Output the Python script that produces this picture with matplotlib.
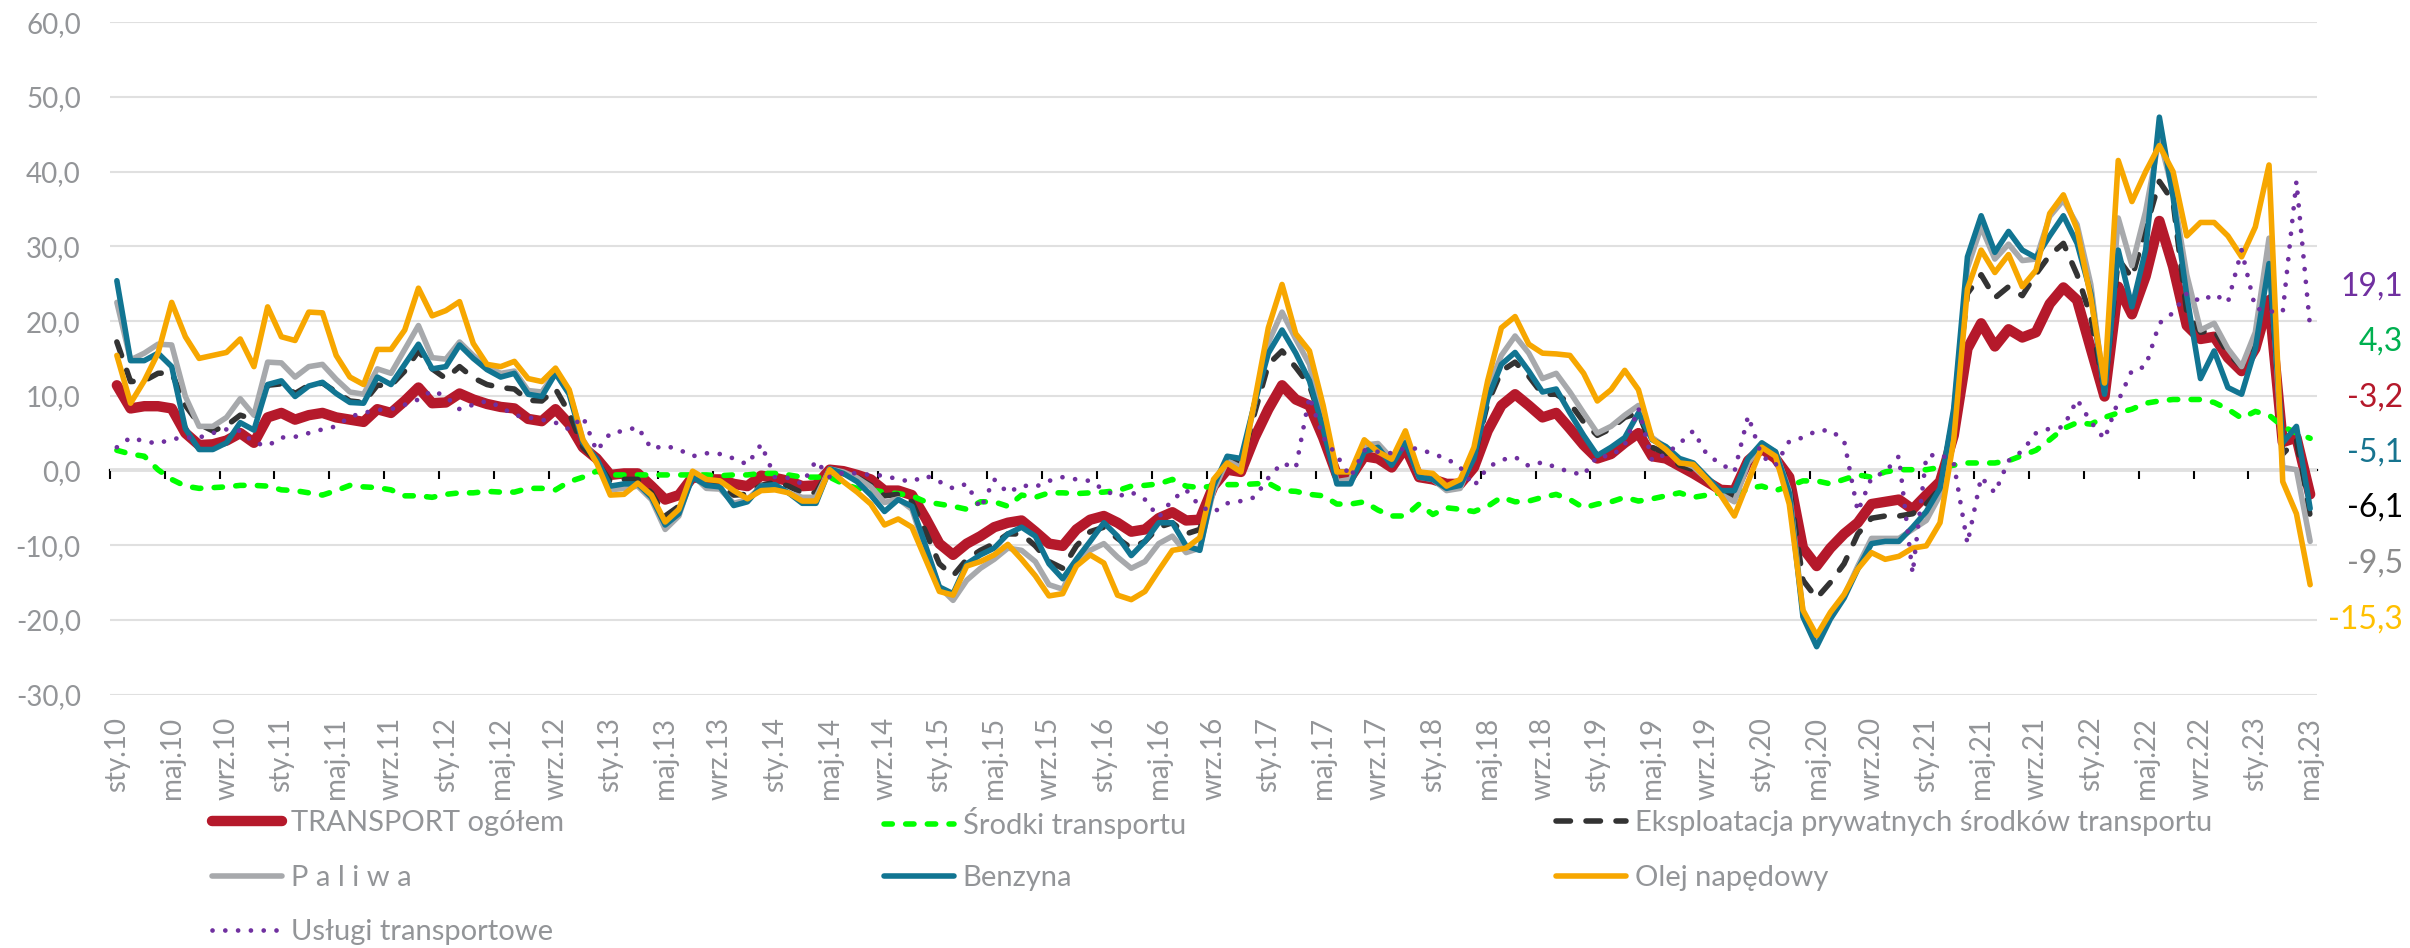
import numpy as np
import matplotlib
matplotlib.use("Agg")
import matplotlib.pyplot as plt

plt.rcParams['font.family'] = ['Lato', 'DejaVu Sans']

# miesiace sty.10 .. maj.23 (161 punktow)
months = np.arange(161)

tick_labels = ['sty.10', 'maj.10', 'wrz.10', 'sty.11', 'maj.11', 'wrz.11', 'sty.12', 'maj.12', 'wrz.12',
               'sty.13', 'maj.13', 'wrz.13', 'sty.14', 'maj.14', 'wrz.14', 'sty.15', 'maj.15', 'wrz.15',
               'sty.16', 'maj.16', 'wrz.16', 'sty.17', 'maj.17', 'wrz.17', 'sty.18', 'maj.18', 'wrz.18',
               'sty.19', 'maj.19', 'wrz.19', 'sty.20', 'maj.20', 'wrz.20', 'sty.21', 'maj.21', 'wrz.21',
               'sty.22', 'maj.22', 'wrz.22', 'sty.23', 'maj.23']

transport = [11.4, 8.3, 8.6, 8.6, 8.3, 5.0, 3.4, 3.5, 4.0, 5.0,
             3.7, 7.1, 7.7, 6.8, 7.4, 7.7, 7.1, 6.8, 6.5, 8.2,
             7.7, 9.3, 11.1, 9.0, 9.1, 10.3, 9.5, 8.9, 8.5, 8.3,
             6.9, 6.6, 8.2, 6.2, 3.1, 1.6, -0.6, -0.4, -0.4, -2.1,
             -3.9, -3.3, -0.9, -1.2, -1.2, -1.8, -2.1, -0.7, -1.0, -1.4,
             -2.1, -2.0, 0.1, -0.1, -0.6, -1.2, -2.7, -2.7, -3.3, -6.4,
             -9.8, -11.3, -9.8, -8.8, -7.6, -7.0, -6.7, -8.2, -9.8, -10.1,
             -7.9, -6.6, -6.1, -7.0, -8.2, -7.9, -6.4, -5.6, -6.7, -6.6,
             -2.1, 0.1, -0.2, 4.4, 8.2, 11.4, 9.5, 8.7, 4.4, -0.6,
             -0.9, 1.9, 1.6, 0.4, 3.1, -0.9, -1.2, -1.8, -1.8, 0.4,
             5.3, 8.7, 10.2, 8.7, 7.1, 7.7, 5.6, 3.4, 1.6, 2.2,
             3.7, 5.0, 1.9, 1.6, 0.6, -0.4, -1.5, -2.6, -2.7, 1.3,
             2.9, 1.6, -0.9, -10.4, -12.8, -10.4, -8.5, -7.0, -4.5, -4.2,
             -3.9, -5.2, -3.3, -1.5, 4.7, 16.3, 19.7, 16.6, 18.9, 17.8,
             18.5, 22.3, 24.5, 22.8, 16.3, 9.9, 24.6, 20.9, 26.0, 33.4,
             27.3, 19.4, 17.6, 17.9, 15.1, 13.3, 16.3, 22.8, 3.8, 4.4,
             -3.2]

srodki = [2.7, 2.2, 1.9, 0.1, -1.2, -2.1, -2.4, -2.3, -2.2, -2.0,
          -2.0, -2.1, -2.6, -2.7, -3.0, -3.3, -2.7, -2.0, -2.2, -2.3,
          -2.6, -3.4, -3.4, -3.6, -3.2, -3.0, -3.0, -2.8, -2.9, -2.9,
          -2.4, -2.4, -2.6, -1.5, -0.9, -0.1, -0.6, -0.6, -0.6, -0.6,
          -0.6, -0.6, -0.6, -0.6, -0.7, -0.6, -0.6, -0.4, -0.4, -0.6,
          -0.9, -0.9, -0.9, -1.8, -2.4, -2.6, -2.9, -3.1, -3.4, -4.2,
          -4.5, -4.8, -5.2, -4.2, -4.2, -4.8, -3.3, -3.6, -3.0, -3.0,
          -3.1, -3.0, -2.9, -2.7, -2.1, -2.0, -1.8, -1.2, -2.1, -2.3,
          -2.1, -1.9, -1.9, -1.8, -1.7, -2.7, -2.8, -3.2, -3.4, -4.5,
          -4.5, -4.2, -5.3, -6.1, -6.1, -4.5, -5.9, -5.0, -5.2, -5.5,
          -4.8, -3.6, -4.2, -4.1, -3.6, -3.2, -3.9, -5.0, -4.5, -4.2,
          -3.6, -4.1, -3.8, -3.4, -3.0, -3.6, -3.3, -3.0, -3.6, -2.4,
          -2.1, -2.7, -2.1, -1.4, -1.4, -1.8, -1.2, -0.6, -0.9, -0.2,
          0.1, 0.1, 0.1, 0.4, 0.7, 1.0, 1.0, 1.0, 1.3, 2.0,
          2.7, 4.1, 5.6, 6.4, 6.2, 7.1, 7.7, 8.2, 9.0, 9.3,
          9.5, 9.5, 9.5, 9.1, 8.2, 7.0, 7.9, 7.4, 5.9, 5.0,
          4.3]

eksploatacja = [17.2, 11.9, 12.0, 13.0, 13.1, 8.7, 6.2, 5.3, 6.0, 7.4,
                6.8, 11.4, 11.6, 10.3, 11.4, 11.7, 10.5, 9.3, 9.1, 11.4,
                11.4, 13.3, 16.0, 13.6, 12.3, 13.9, 12.4, 11.5, 11.1, 10.9,
                9.4, 9.3, 10.9, 7.7, 3.1, 1.3, -1.5, -1.2, -1.2, -3.0,
                -6.1, -4.8, -0.9, -2.0, -2.1, -3.3, -3.2, -2.0, -1.6, -2.1,
                -3.0, -3.0, 0.2, -0.2, -0.9, -2.0, -3.4, -3.2, -4.2, -8.2,
                -12.5, -14.1, -11.9, -10.7, -9.8, -8.5, -8.5, -10.1, -12.2, -13.1,
                -10.1, -8.2, -7.6, -9.1, -10.4, -9.5, -7.6, -7.0, -8.5, -7.9,
                -2.1, 1.3, 0.9, 7.7, 14.2, 16.0, 13.8, 11.4, 5.9, -0.2,
                -0.2, 3.1, 3.1, 1.3, 3.7, -0.6, -1.2, -2.2, -1.8, 1.6,
                9.0, 13.3, 14.5, 12.6, 10.2, 10.2, 9.0, 6.5, 4.7, 5.6,
                7.1, 7.7, 3.1, 2.3, 0.7, 0.1, -1.2, -3.0, -3.4, 1.0,
                3.4, 2.2, -2.1, -14.7, -17.1, -15.0, -12.5, -8.5, -6.4, -6.1,
                -6.1, -5.8, -4.5, -2.4, 7.7, 23.7, 26.2, 23.1, 24.6, 23.4,
                26.3, 28.8, 30.4, 26.2, 20.6, 10.5, 28.3, 25.8, 32.3, 38.7,
                36.0, 21.2, 18.5, 18.8, 15.7, 13.9, 17.6, 27.7, 2.2, 4.1,
                -6.1]

paliwa = [22.5, 14.8, 15.7, 16.9, 16.8, 9.9, 5.9, 5.9, 7.1, 9.6,
          7.4, 14.5, 14.4, 12.5, 13.9, 14.2, 12.2, 10.5, 10.2, 13.6,
          13.0, 16.2, 19.4, 15.1, 14.9, 17.2, 15.4, 13.9, 13.0, 13.3,
          10.7, 10.5, 13.1, 10.5, 4.1, 1.3, -2.6, -2.4, -2.1, -3.9,
          -7.9, -6.1, -0.6, -2.4, -2.5, -4.4, -3.9, -2.1, -2.1, -3.0,
          -3.6, -3.6, 0.2, -0.2, -1.0, -2.2, -4.3, -3.8, -5.2, -10.7,
          -15.6, -17.4, -14.7, -13.1, -11.9, -10.4, -10.7, -12.2, -15.3, -15.9,
          -12.2, -10.7, -9.8, -11.6, -13.1, -12.2, -9.8, -8.8, -11.0, -10.4,
          -2.7, 1.3, 0.4, 9.0, 17.1, 21.2, 17.6, 14.2, 6.5, -1.5,
          -1.2, 3.4, 3.6, 1.6, 4.1, -0.9, -1.2, -2.7, -2.4, 2.2,
          10.8, 15.4, 18.0, 15.7, 12.3, 13.0, 10.5, 7.7, 5.0, 5.9,
          7.4, 8.7, 4.4, 3.1, 1.3, 0.5, -1.2, -3.2, -4.2, 1.0,
          3.4, 2.5, -2.7, -19.0, -22.3, -19.3, -16.8, -12.8, -9.1, -9.1,
          -9.1, -7.9, -6.7, -3.3, 7.7, 27.1, 32.6, 28.3, 30.3, 28.1,
          28.3, 34.0, 36.2, 32.9, 24.9, 10.5, 33.8, 27.4, 34.7, 44.6,
          37.2, 26.2, 18.8, 19.7, 16.3, 13.9, 18.5, 31.1, 0.4, 0.1,
          -9.5]

benzyna = [25.4, 14.7, 14.7, 15.7, 13.9, 5.6, 2.8, 2.8, 3.7, 6.4,
           5.4, 11.5, 12.0, 9.9, 11.3, 11.8, 10.3, 9.1, 9.0, 12.5,
           11.5, 14.2, 16.9, 13.6, 13.9, 16.8, 15.0, 13.5, 12.5, 13.0,
           10.2, 9.9, 13.0, 10.2, 3.7, 1.6, -2.1, -1.8, -1.8, -3.6,
           -7.3, -5.8, -0.9, -2.0, -2.2, -4.7, -4.2, -2.1, -1.9, -3.0,
           -4.4, -4.4, 0.2, -0.4, -1.5, -3.3, -5.5, -3.9, -4.8, -10.1,
           -15.6, -16.5, -12.5, -11.3, -10.4, -8.5, -7.6, -8.8, -12.5, -14.5,
           -11.9, -9.5, -7.0, -8.8, -11.4, -9.5, -7.0, -7.0, -10.1, -10.7,
           -2.1, 1.9, 1.6, 9.0, 15.7, 18.8, 15.7, 12.0, 5.6, -1.8,
           -1.8, 2.5, 3.1, 0.7, 3.7, -0.9, -1.2, -2.4, -2.0, 1.6,
           9.6, 14.2, 15.8, 13.3, 10.5, 10.9, 7.7, 4.7, 2.0, 3.1,
           4.4, 7.7, 4.1, 3.2, 1.6, 1.0, -0.9, -2.7, -2.7, 1.6,
           3.7, 2.5, -3.0, -19.6, -23.6, -19.9, -17.1, -13.2, -9.8, -9.5,
           -9.5, -7.6, -5.5, -2.4, 8.3, 28.6, 34.1, 29.2, 32.0, 29.5,
           28.5, 31.4, 34.1, 30.4, 23.7, 10.2, 29.5, 21.9, 29.5, 47.3,
           36.6, 23.4, 12.3, 16.0, 11.1, 10.2, 16.3, 27.7, 3.7, 5.9,
           -5.1]

olej = [15.4, 9.0, 12.0, 15.7, 22.5, 17.9, 15.0, 15.4, 15.8, 17.6,
        13.9, 21.9, 17.9, 17.4, 21.2, 21.1, 15.4, 12.5, 11.5, 16.2,
        16.2, 18.8, 24.4, 20.7, 21.4, 22.6, 17.0, 14.2, 13.9, 14.6,
        12.3, 11.9, 13.7, 10.8, 4.1, 1.0, -3.3, -3.2, -1.7, -3.3,
        -6.9, -5.2, -0.1, -1.2, -1.4, -2.7, -3.8, -2.7, -2.6, -3.0,
        -4.1, -4.1, 0.1, -1.5, -2.9, -4.5, -7.3, -6.5, -7.6, -11.9,
        -16.2, -16.7, -12.8, -12.2, -11.3, -9.9, -11.9, -14.1, -16.8, -16.5,
        -12.8, -11.3, -12.4, -16.7, -17.3, -16.2, -13.4, -10.7, -10.4, -9.0,
        -1.2, 1.0, -0.2, 9.3, 19.1, 24.9, 18.3, 16.0, 8.7, -0.2,
        -0.2, 4.1, 2.5, 1.5, 5.3, -0.2, -0.4, -2.1, -1.2, 3.1,
        12.0, 19.1, 20.6, 16.9, 15.7, 15.6, 15.4, 13.0, 9.3, 10.8,
        13.4, 10.8, 4.2, 2.8, 1.0, 0.8, -1.2, -3.3, -6.1, -1.5,
        3.1, 1.9, -4.5, -18.7, -22.1, -19.0, -16.6, -13.2, -11.0, -11.9,
        -11.5, -10.4, -10.1, -7.0, 4.1, 24.3, 29.5, 26.5, 28.9, 24.6,
        26.8, 34.4, 36.9, 32.3, 23.1, 11.7, 41.5, 36.0, 40.0, 43.5,
        40.0, 31.4, 33.2, 33.2, 31.4, 28.6, 32.6, 40.9, -1.5, -5.8,
        -15.3]

uslugi = [3.1, 4.4, 3.9, 3.6, 4.2, 4.4, 4.4, 5.0, 5.5, 5.3,
          3.7, 3.3, 4.4, 4.5, 5.0, 5.5, 5.9, 7.2, 7.7, 8.1,
          8.2, 8.8, 9.5, 10.7, 9.9, 8.2, 8.8, 9.3, 8.5, 7.4,
          7.1, 6.8, 6.4, 5.5, 7.2, 2.6, 5.0, 5.3, 5.8, 2.9,
          3.3, 2.8, 1.9, 2.3, 2.2, 1.6, 0.8, 3.5, -0.9, -1.0,
          -1.8, 1.3, -0.9, -0.3, -0.4, -0.6, -0.7, -1.2, -1.5, -0.7,
          -1.5, -2.4, -1.8, -5.1, -1.2, -3.0, -2.0, -2.2, -1.4, -0.9,
          -1.2, -1.4, -2.6, -3.5, -2.9, -3.9, -6.3, -3.9, -2.6, -4.8,
          -5.6, -4.4, -4.1, -3.6, -1.0, 1.0, 0.3, 9.9, 4.4, 2.0,
          -0.9, 2.7, 2.5, 2.3, 3.0, 2.9, 2.2, 1.6, 0.4, -2.1,
          0.4, 1.4, 1.8, 0.6, 1.1, 0.4, -0.2, -0.6, 1.9, 1.9,
          3.4, 8.3, 1.3, 2.2, 3.6, 5.3, 2.1, 0.9, -0.2, 7.3,
          1.9, 0.7, 3.9, 4.4, 5.3, 5.4, 4.0, -5.5, -1.0, -0.2,
          1.9, -13.8, 1.9, 2.2, 1.0, -9.8, -0.9, -3.0, 1.3, 2.6,
          5.0, 5.6, 5.8, 9.5, 6.5, 4.2, 9.3, 13.4, 13.9, 19.7,
          21.1, 23.7, 22.6, 23.6, 22.5, 29.5, 21.7, 21.3, 21.2, 38.7,
          19.1]

last_labels = ['19,1', '4,3', '-3,2', '-5,1', '-6,1', '-9,5', '-15,3']
last_colors = ['#7030A0', '#00B050', '#B5192B', '#17748F', '#000000', '#8C8C8C', '#FFC000']

gray_txt = '#939598'
W, H = 2410, 948

fig = plt.figure(figsize=(W / 100, H / 100), dpi=100)
ax = fig.add_axes([110 / W, 1 - 694.5 / H, 2207 / W, (694.5 - 22.3) / H])

l_tr, = ax.plot(months, transport, color='#B5192B', lw=7.5, solid_capstyle='round',
                solid_joinstyle='round', zorder=3)
l_sr, = ax.plot(months, srodki, color='#00FF00', lw=4, dashes=(1.5, 2.4),
                dash_capstyle='round', zorder=4)
l_ek, = ax.plot(months, eksploatacja, color='#333333', lw=4, dashes=(2.6, 2.8),
                dash_capstyle='round', zorder=5)
l_pa, = ax.plot(months, paliwa, color='#A7A9AC', lw=4, solid_capstyle='round', zorder=6)
l_be, = ax.plot(months, benzyna, color='#117592', lw=4, solid_capstyle='round', zorder=7)
l_ol, = ax.plot(months, olej, color='#F7A700', lw=4, solid_capstyle='round', zorder=8)
l_us, = ax.plot(months, uslugi, color='#7030A0', lw=3.4, dashes=(0.01, 2.7),
                dash_capstyle='round', zorder=9)

ax.set_xlim(-0.5, 160.5)
ax.set_ylim(-30, 60)
yt = np.arange(-30, 61, 10)
ax.set_yticks(yt)
ax.set_yticklabels([('%.1f' % v).replace('.', ',') for v in yt])
ax.set_xticks(months[::4])
ax.set_xticklabels(tick_labels, rotation=90)
ax.tick_params(axis='y', length=0, pad=21, labelsize=20, labelcolor=gray_txt)
ax.tick_params(axis='x', length=0, pad=16, labelsize=20, labelcolor=gray_txt)
ax.yaxis.grid(True, color='#E0E0E0', lw=1.5)
ax.set_axisbelow(True)
for s in ax.spines.values():
    s.set_visible(False)

# os kategorii na wysokosci zera, znaczniki co 4 miesiace
zero_pos = (0 - (-30)) / 90
sec = ax.secondary_xaxis(zero_pos)
sec.set_xticks(np.arange(-0.5, 161, 4))
sec.tick_params(axis='x', direction='out', length=6.5, width=1.5, color='black', labelbottom=False)
sec.spines['bottom'].set_color('black')
sec.spines['bottom'].set_linewidth(1.6)

# etykiety koncowe po prawej
label_y = [24.6, 17.2, 9.8, 2.4, -5.0, -12.5, -19.9]
for txt, col, yy in zip(last_labels, last_colors, label_y):
    ax.text(2403 / W, yy, txt, color=col, fontsize=23, ha='right', va='center',
            transform=matplotlib.transforms.blended_transform_factory(fig.transFigure, ax.transData))

# legenda w trzech kolumnach
entries = [(l_tr, 'TRANSPORT ogółem', 212, 823), (l_sr, 'Środki transportu', 884, 823),
           (l_ek, 'Eksploatacja prywatnych środków transportu', 1556, 823),
           (l_pa, 'P a l i w a', 212, 878), (l_be, 'Benzyna', 884, 878),
           (l_ol, 'Olej napędowy', 1556, 878), (l_us, 'Usługi transportowe', 212, 932)]
for h, lab, xx, yy in entries:
    fig.legend(handles=[h], labels=[lab], loc='center left', bbox_to_anchor=(xx / W, 1 - yy / H),
               frameon=False, borderpad=0, borderaxespad=0, handlelength=2.4, handletextpad=0.3,
               fontsize=21, labelcolor=gray_txt)

fig.savefig('out.png', dpi=100)
